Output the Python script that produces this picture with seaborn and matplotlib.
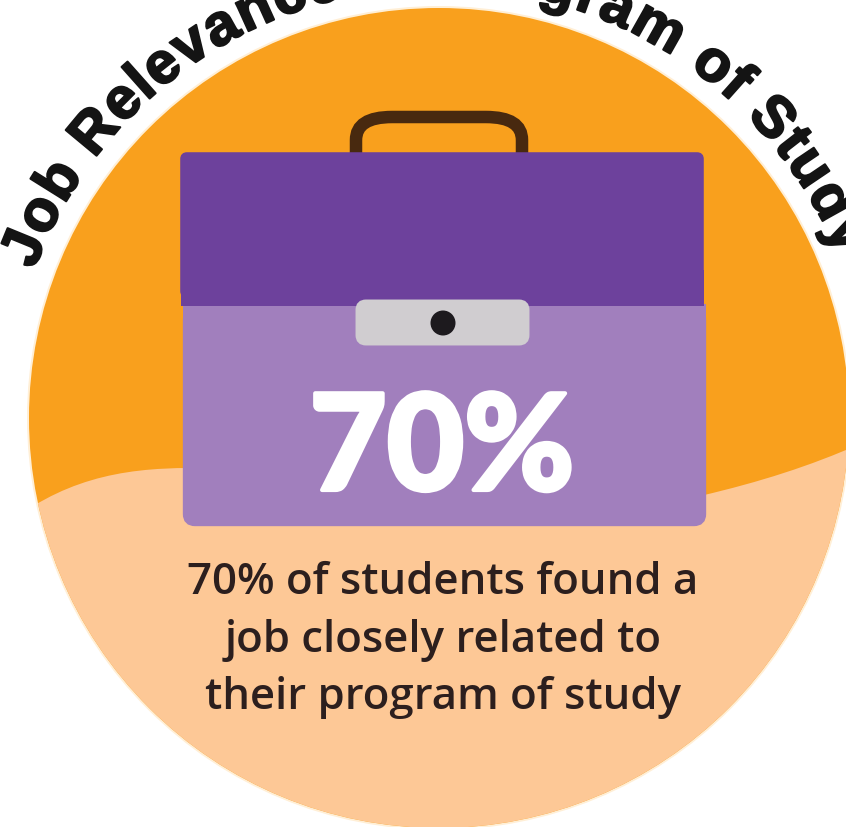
import numpy as np
import matplotlib
matplotlib.use("Agg")
import matplotlib.pyplot as plt
import matplotlib.patheffects as pe
import seaborn as sns
from matplotlib.font_manager import FontProperties
from matplotlib.patches import Circle, FancyBboxPatch, PathPatch, Rectangle
from matplotlib.path import Path
from matplotlib.textpath import TextPath

title = "Job Relevance to Program of Study"
share = 70
caption = ["of students found a", "job closely related to", "their program of study"]

sns.set_theme(style="white")
plt.rcParams["font.family"] = ["Open Sans", "DejaVu Sans"]

fig = plt.figure(figsize=(8.46, 8.27), dpi=100)
ax = fig.add_axes([0, 0, 1, 1])
ax.set_xlim(0, 846)
ax.set_ylim(827, 0)
ax.axis("off")

# background disc
cx, cy, r = 439, 418, 410
ax.add_patch(Circle((cx, cy), r + 2, fc="#FFEFD6", ec="none", zorder=0))
disc = Circle((cx, cy), r, fc="#F9A01D", ec="none", zorder=1)
ax.add_patch(disc)

# pale lower part with the wavy edge
wave = Path(
    [(0, 530), (60, 480), (120, 468), (190, 468),
     (350, 468), (560, 540), (700, 496),
     (760, 482), (810, 466), (860, 444),
     (860, 840), (0, 840), (0, 530)],
    [Path.MOVETO, Path.CURVE4, Path.CURVE4, Path.CURVE4,
     Path.CURVE4, Path.CURVE4, Path.CURVE4,
     Path.CURVE4, Path.CURVE4, Path.CURVE4,
     Path.LINETO, Path.LINETO, Path.CLOSEPOLY],
)
low = PathPatch(wave, fc="#FDC896", ec="none", zorder=2)
ax.add_patch(low)
low.set_clip_path(disc)

# handle
handle = Path(
    [(356, 155), (356, 140), (356, 117), (392, 117), (486, 117), (522, 117), (522, 140), (522, 155)],
    [Path.MOVETO, Path.LINETO, Path.CURVE3, Path.CURVE3, Path.LINETO, Path.CURVE3, Path.CURVE3, Path.LINETO],
)
ax.add_patch(PathPatch(handle, fc="none", ec="#48290F", lw=9, zorder=3, capstyle="butt"))

# case
ax.add_patch(Rectangle((183, 304), 523, 20, fc="#A17FBD", ec="none", zorder=4))
ax.add_patch(FancyBboxPatch((187, 312), 515, 210, boxstyle="round,pad=0,rounding_size=8",
                            fc="#A17FBD", ec="#A17FBD", lw=6, zorder=4))
ax.add_patch(FancyBboxPatch((183, 155), 518, 140, boxstyle="round,pad=0,rounding_size=4",
                            fc="#6D419C", ec="#6D419C", lw=4, zorder=5))
ax.add_patch(Rectangle((180.5, 270), 523, 36, fc="#6D419C", ec="none", zorder=5))

# clasp
ax.add_patch(FancyBboxPatch((359, 303), 167, 39, boxstyle="round,pad=0,rounding_size=7",
                            fc="#D0CDD0", ec="#D0CDD0", lw=5, zorder=6))
ax.add_patch(Circle((443, 323), 12.5, fc="#1D1A1E", ec="none", zorder=7))

# big number
ax.text(442, 440, f"{share}%", color="white", fontsize=96, family="Lato", fontweight="black",
        ha="center", va="center_baseline", zorder=8,
        path_effects=[pe.withStroke(linewidth=3, foreground="white")])

# caption
ink = "#2C1F1E"
lines = [f"{share}% {caption[0]}", caption[1], caption[2]]
for y, line in zip([583, 640, 697], lines):
    ax.text(443, y, line, color=ink, fontsize=31.5, fontweight="semibold", ha="center", va="center", zorder=8)

# title letter by letter along the arc, top of it runs off the image
font = FontProperties(family="Liberation Sans", weight="bold")
size = 42
base_r = 431
widths = [TextPath((0, 0), "n" + ch + "n", size=size, prop=font).get_extents().width
          - TextPath((0, 0), "nn", size=size, prop=font).get_extents().width for ch in title]
start, end = np.radians(160), np.radians(22)
total = sum(widths)
pos = 0
for ch, w in zip(title, widths):
    ang = start + (end - start) * (pos + w / 2) / total
    pos += w
    x = cx + base_r * np.cos(ang)
    y = cy - base_r * np.sin(ang)
    ax.text(x, y, ch, fontproperties=font, fontsize=size, color="#141414",
            rotation=np.degrees(ang) - 90, rotation_mode="anchor",
            ha="center", va="baseline", zorder=9, clip_on=True,
            path_effects=[pe.withStroke(linewidth=1.5, foreground="#141414")])

fig.savefig("out.png", dpi=100)
